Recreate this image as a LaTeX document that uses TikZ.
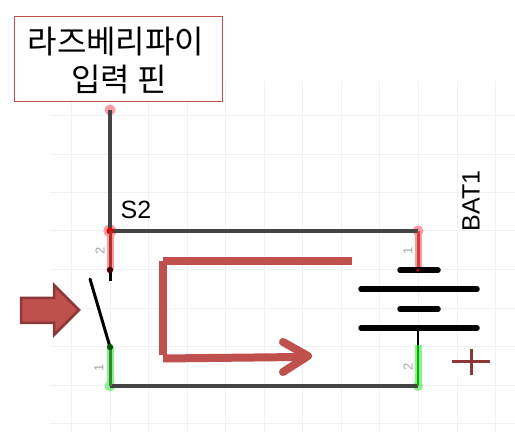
\documentclass[tikz,border=0pt]{standalone}
\usepackage{fontspec}
\setmainfont{Liberation Sans}
\newfontfamily\krfont{Noto Sans CJK KR}
\definecolor{accent}{HTML}{C0504D}
\definecolor{accentdark}{HTML}{8C3836}
\definecolor{gridc}{HTML}{EEF1F5}
\definecolor{wirec}{HTML}{444444}
\definecolor{redglow}{HTML}{FF9AA0}
\definecolor{greenglow}{HTML}{8FEE8F}
\definecolor{pinred}{HTML}{B03030}
\definecolor{pingreen}{HTML}{2E8B2E}
\tikzset{
  wire/.style={draw=wirec,line width=3.2pt},
  sym/.style={draw=black,line width=3pt,line cap=round},
  bar/.style={draw=black,line width=5.5pt,line cap=round},
  thinsym/.style={draw=black,line width=1.6pt},
  flow/.style={draw=accent,line width=8pt},
  glowred/.style={draw=redglow,line width=7pt},
  glowgreen/.style={draw=greenglow,line width=7pt},
  pinnum/.style={font=\fontsize{13}{13}\selectfont,text=gray!70,rotate=90,inner sep=0pt},
  lbl/.style={font=\fontsize{25}{25}\selectfont,inner sep=0pt},
}
\begin{document}
\begin{tikzpicture}[x=1pt,y=1pt]
\useasboundingbox (0,0) rectangle (515,445);
% grid
\foreach \x in {71,110,148.5,187,225.5,264,302.5,341,379.5,418,457,495.5}
  \draw[gridc,line width=1pt] (\x,364) -- (\x,13);
\foreach \y in {329.5,290.7,252,214,175,136,98,59,21}
  \draw[gridc,line width=1pt] (50,\y) -- (515,\y);
% junctions
\coordinate (top) at (110,335);
\coordinate (sw2) at (110,214);
\coordinate (sw2in) at (110,175);
\coordinate (swend) at (110,164);
\coordinate (bladetop) at (90,166);
\coordinate (sw1in) at (110,98);
\coordinate (sw1) at (110,59);
\coordinate (bat1) at (418,214);
\coordinate (bat1in) at (418,175);
\coordinate (bat2) at (418,59);
\coordinate (bat2in) at (418,100);
\coordinate (batmid) at (418,117);
% pin glows
\draw[glowred] (bat1) -- (bat1in);
\draw[glowred] (sw2) -- (sw2in);
\draw[glowgreen] (sw1) -- (sw1in);
\draw[glowgreen] (bat2) -- (bat2in);
\fill[redglow] (top) circle (5.5pt) (sw2) circle (6.5pt) (bat1) circle (5.5pt);
\fill[greenglow] (sw1) circle (5.5pt) (bat2) circle (5pt);
% wires
\draw[wire] (top) -- (sw2);
\draw[wire] (sw2) -- (bat1);
\draw[wire] (sw1) -- (bat2);
\fill[red!90!black] (sw2) circle (3.5pt);
% pins
\draw[pinred,line width=3pt] (sw2) -- (sw2in);
\draw[pingreen,line width=3pt] (sw1) -- (sw1in);
\draw[accent!80!red,line width=3pt] (bat1) -- (bat1in);
\draw[green!70!black,line width=2.6pt] (bat2) -- (bat2in);
% switch
\draw[sym,line cap=butt] (sw2in) -- (swend);
\fill[black!75!red] (sw2in) circle (3.2pt);
\draw[sym] (bladetop) -- (sw1in);
\fill[black!65!green] (sw1in) circle (3.2pt);
% battery
\draw[thinsym] (batmid) -- (bat2in);
\draw[bar] (400,175) -- (438,175);
\draw[bar] (361,156) -- (477,156);
\draw[bar] (400,136) -- (438,136);
\draw[bar] (361,117) -- (477,117);
\fill[red!70!black] (bat1in) circle (1.8pt);
% flow path
\draw[flow] (352,184) -- (163,184);
\draw[flow] (163,184) -- (163,90);
\draw[flow] (163,86.5) -- (300,88);
\draw[accent,line width=8pt,line cap=round,line join=round] (283,103) -- (308,89) -- (283,73);
% plus sign
\fill[white] (450,80) rectangle (495,68);
\draw[accentdark,line width=3pt] (452,83) -- (490,83);
\draw[accentdark,line width=3pt] (471,70) -- (471,96);
% block arrow
\draw[accentdark,fill=accent,line width=2.5pt,line join=miter]
  (21,122) -- (21,147) -- (54,147) -- (54,160) -- (79,135) -- (54,110) -- (54,122) -- cycle;
% label box
\node[draw=accent,fill=white,line width=1pt,minimum width=208pt,minimum height=85pt,inner sep=0pt] (pinbox) at (118,385.5) {};
\node[inner sep=0pt,font=\krfont\fontsize{32}{32}\selectfont] (pinA) at (116,403) {라즈베리파이};
\node[inner sep=0pt,font=\krfont\fontsize{32}{32}\selectfont] (pinB) at (119,365) {입력 핀};
% labels
\node[lbl] (s2) at (136,235) {S2};
\node[lbl,rotate=90] (bat) at (471,244) {BAT1};
\node[pinnum] (n2a) at (100,194) {2};
\node[pinnum] (n1a) at (99,77) {1};
\node[pinnum] (n1b) at (408,194) {1};
\node[pinnum] (n2b) at (408,78) {2};
\end{tikzpicture}
\end{document}
